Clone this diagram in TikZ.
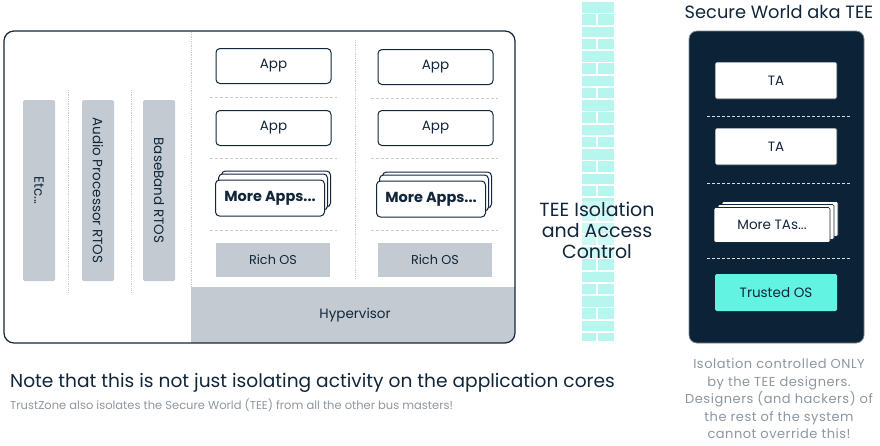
\documentclass[tikz,border=0pt]{standalone}
\usepackage{fontspec}
\setmainfont{Poppins}
\definecolor{navy}{HTML}{11263A}
\definecolor{panel}{HTML}{0C2236}
\definecolor{boxgrey}{HTML}{C3CAD1}
\definecolor{linegrey}{HTML}{C8CCD0}
\definecolor{wall}{HTML}{B6F6EF}
\definecolor{tos}{HTML}{62F3E3}
\definecolor{softtext}{HTML}{8D969F}
\tikzset{
  appbox/.style={draw=navy, line width=1pt, fill=white, rounded corners=4pt, text=navy, font=\fontsize{13.5}{15}\selectfont},
  greybox/.style={fill=boxgrey, text=navy, rounded corners=1.5pt, font=\fontsize{12.8}{14}\selectfont},
  vdiv/.style={draw=linegrey, densely dotted, line width=0.8pt},
  hdiv/.style={draw=linegrey, dash pattern=on 3pt off 2pt, line width=0.8pt},
  wdiv/.style={draw=white!85!panel, dash pattern=on 3pt off 2pt, line width=0.8pt},
  tabox/.style={fill=white, draw=navy, line width=0.6pt, rounded corners=1.5pt, text=navy, font=\fontsize{13.5}{15}\selectfont},
  vtext/.style={text=navy, rotate=-90, font=\fontsize{13.5}{15}\selectfont},
  brick/.style={fill=wall},
}
\begin{document}
\begin{tikzpicture}[x=1pt,y=-1pt]
\useasboundingbox (0,0) rectangle (880,445);
% ---------- main box ----------
\begin{scope}
  \clip[rounded corners=10pt] (4,31) rectangle (515,343);
  \fill[boxgrey] (191,287) rectangle (515,343);
\end{scope}
\node[text=navy, font=\fontsize{13.5}{15}\selectfont] (hyp) at (355,315) {Hypervisor};
\draw[navy, line width=1.2pt, rounded corners=10pt] (4,31) rectangle (515,343);
\node (mainbox) at (259.5,187) {};
% dotted vertical dividers
\coordinate (d1t) at (68,90); \coordinate (d1b) at (68,293);
\coordinate (d2t) at (131,90); \coordinate (d2b) at (131,293);
\coordinate (d3t) at (191,32); \coordinate (d3b) at (191,287);
\coordinate (d4t) at (355,40); \coordinate (d4b) at (355,279);
\draw[vdiv] (d1t) -- (d1b);
\draw[vdiv] (d2t) -- (d2b);
\draw[vdiv] (d3t) -- (d3b);
\draw[vdiv] (d4t) -- (d4b);
% vertical RTOS boxes
\node[greybox, minimum width=32pt, minimum height=181pt] (etc) at (39,190.5) {};
\node[vtext] (etct) at (etc.center) {Etc...};
\node[greybox, minimum width=32pt, minimum height=181pt] (audio) at (98,190.5) {};
\node[vtext] (audiot) at (audio.center) {Audio Processor RTOS};
\node[greybox, minimum width=32pt, minimum height=181pt] (bb) at (159,190.5) {};
\node[vtext] (bbt) at (bb.center) {BaseBand RTOS};
% left column
\node[appbox, minimum width=115pt, minimum height=35pt] (appL1) at (273.5,66) {App};
\node[appbox, minimum width=115pt, minimum height=35pt] (appL2) at (273.5,128) {App};
\coordinate (hl1a) at (210,97); \coordinate (hl1b) at (337,97);
\coordinate (hl2a) at (210,158); \coordinate (hl2b) at (337,158);
\coordinate (hl3a) at (210,230); \coordinate (hl3b) at (337,230);
\draw[hdiv] (hl1a) -- (hl1b);
\draw[hdiv] (hl2a) -- (hl2b);
\draw[hdiv] (hl3a) -- (hl3b);
\node[appbox, minimum width=109pt, minimum height=36pt] (moreLc) at (276,189) {};
\node[appbox, minimum width=109pt, minimum height=36pt] (moreLb) at (273,192) {};
\node[appbox, minimum width=109pt, minimum height=36pt, font=\bfseries\fontsize{14.5}{16}\selectfont] (moreL) at (270,198) {More Apps...};
\node[greybox, rounded corners=0pt, minimum width=114pt, minimum height=34pt] (richL) at (273,260) {Rich OS};
% right column
\node[appbox, minimum width=115pt, minimum height=35pt] (appR1) at (435.5,67) {App};
\node[appbox, minimum width=115pt, minimum height=35pt] (appR2) at (435.5,128) {App};
\coordinate (hr1a) at (371,98); \coordinate (hr1b) at (498,98);
\coordinate (hr2a) at (371,158); \coordinate (hr2b) at (498,158);
\coordinate (hr3a) at (371,230); \coordinate (hr3b) at (498,230);
\draw[hdiv] (hr1a) -- (hr1b);
\draw[hdiv] (hr2a) -- (hr2b);
\draw[hdiv] (hr3a) -- (hr3b);
\node[appbox, minimum width=109pt, minimum height=36pt] (moreRc) at (437,190) {};
\node[appbox, minimum width=109pt, minimum height=36pt] (moreRb) at (434,193) {};
\node[appbox, minimum width=109pt, minimum height=36pt, font=\bfseries\fontsize{14.5}{16}\selectfont] (moreR) at (431,199) {More Apps...};
\node[greybox, rounded corners=0pt, minimum width=114pt, minimum height=34pt] (richR) at (435,260) {Rich OS};
% ---------- brick wall ----------
\begin{scope}
  \clip (582,0) rectangle (614,340);
  \foreach \i in {0,...,13} {
    \pgfmathsetmacro{\ya}{2+\i*24.5}
    \fill[brick] (582,\ya) rectangle (614,\ya+10.5);
    \fill[brick] (582,\ya+12.2) rectangle (595.5,\ya+22.6);
    \fill[brick] (597.5,\ya+12.2) rectangle (614,\ya+22.6);
  }
\end{scope}
\node[fill=white, fill opacity=0.35, text opacity=1, text=navy, align=center, inner sep=1pt,
      font=\fontsize{19}{21}\selectfont] (iso) at (597,230) {TEE Isolation\\and Access\\Control};
% ---------- secure world ----------
\node[text=navy, font=\fontsize{17.8}{20}\selectfont] (swtitle) at (779,12) {Secure World aka TEE};
\draw[fill=panel, draw=boxgrey!60!panel, line width=0.8pt, rounded corners=8pt] (689,31) rectangle (864,343);
\node (swbox) at (776.5,187) {};
\node[tabox, minimum width=122pt, minimum height=37pt] (ta1) at (776,80.5) {TA};
\node[tabox, minimum width=122pt, minimum height=37pt] (ta2) at (776,146.5) {TA};
\coordinate (w1a) at (707,116); \coordinate (w1b) at (850,116);
\coordinate (w2a) at (707,183); \coordinate (w2b) at (850,183);
\coordinate (w3a) at (707,258); \coordinate (w3b) at (850,258);
\draw[wdiv] (w1a) -- (w1b);
\draw[wdiv] (w2a) -- (w2b);
\draw[wdiv] (w3a) -- (w3b);
\node[tabox, minimum width=116pt, minimum height=35pt] (tac) at (780,219) {};
\node[tabox, minimum width=116pt, minimum height=35pt] (tab) at (776,222) {};
\node[tabox, minimum width=116pt, minimum height=35pt] (ta3) at (772,225) {More TAs...};
\node[fill=tos, text=navy, rounded corners=1.5pt, minimum width=122pt, minimum height=37pt,
      font=\fontsize{13.5}{15}\selectfont] (tos) at (776,292.5) {Trusted OS};
\node[text=softtext, align=center, font=\addfontfeatures{LetterSpace=4}\fontsize{13}{17.5}\selectfont] (note) at (779,399)
  {Isolation controlled ONLY\\by the TEE designers.\\Designers (and hackers) of\\the rest of the system\\cannot override this!};
% ---------- bottom notes ----------
\node[anchor=west, text=navy, inner sep=0pt, font=\fontsize{18.6}{21}\selectfont] (n1) at (10,383)
  {Note that this is not just isolating activity on the application cores};
\node[anchor=west, text=softtext, inner sep=0pt, font=\fontsize{11.5}{13}\selectfont] (n2) at (10,405)
  {TrustZone also isolates the Secure World (TEE) from all the other bus masters!};
\end{tikzpicture}
\end{document}
